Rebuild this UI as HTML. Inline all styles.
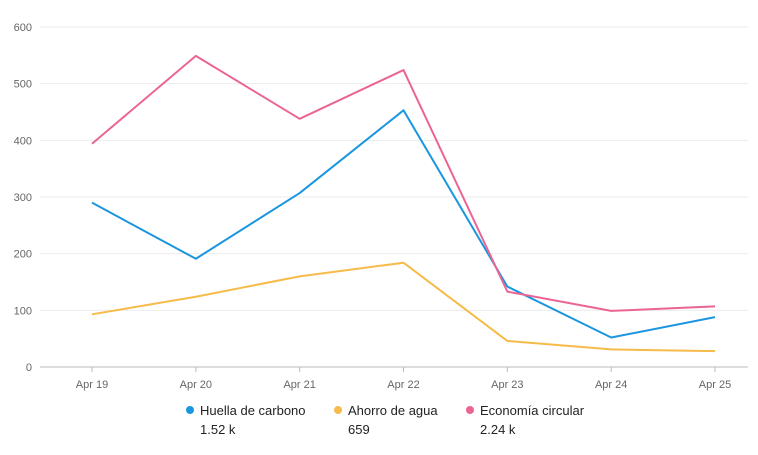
<!DOCTYPE html>
<html><head><meta charset="utf-8"><style>
body{margin:0;background:#fff;font-family:"Liberation Sans",Arial,sans-serif}
svg{display:block}
</style></head><body>
<svg id="chart" width="758" height="455"></svg>
<script>
const categories=["Apr 19","Apr 20","Apr 21","Apr 22","Apr 23","Apr 24","Apr 25"];
const huella=[290,191,307,453,142,52,88];
const ahorro=[93,124,160,184,46,31,28];
const economia=[394,549,438,524,133,99,107];
const yTicks=[0,100,200,300,400,500,600];
const seriesNames=["Huella de carbono","Ahorro de agua","Economía circular"];
const totals=["1.52 k","659","2.24 k"];
const colors=["#1a96e0","#f6bb4a","#eb6494"];
const NS="http://www.w3.org/2000/svg";
const svg=document.getElementById('chart');
const x0=92,x1=715,yBase=367,yTop=27;
const xs=i=>x0+(x1-x0)*i/(categories.length-1);
const ys=v=>yBase-(yBase-yTop)*v/600;
function mk(t,a){const e=document.createElementNS(NS,t);for(const k in a)e.setAttribute(k,a[k]);svg.appendChild(e);return e;}
yTicks.forEach(v=>{
  const l=mk('line',{x1:40,x2:748,y1:ys(v),y2:ys(v),stroke:v===0?'#bbb':'#ebebeb','stroke-width':1});
  
  
  const t=mk('text',{x:32,y:ys(v)+4,'text-anchor':'end','font-size':11,fill:'#666'});
  t.textContent=v;
  
  
});
categories.forEach((c,i)=>{
  const tk=mk('line',{x1:xs(i),x2:xs(i),y1:yBase,y2:yBase+5,stroke:'#bbb'});
  
  
  const t=mk('text',{x:xs(i),y:388,'text-anchor':'middle','font-size':11,fill:'#666'});
  t.textContent=c;
  
  
});
[huella,ahorro,economia].forEach((s,k)=>{
  const p=mk('polyline',{points:s.map((v,i)=>xs(i)+','+ys(v)).join(' '),fill:'none',stroke:colors[k],'stroke-width':2,'stroke-linejoin':'round'});
  
  
});
const lx=[190,338,470];
seriesNames.forEach((n,k)=>{
  const c=mk('circle',{cx:lx[k],cy:410,r:4,fill:colors[k]});
  
  
  const t=mk('text',{x:lx[k]+10,y:415,'font-size':13,fill:'#222'});
  t.textContent=n;
  
  
  const t2=mk('text',{x:lx[k]+10,y:434,'font-size':13,fill:'#222'});
  t2.textContent=totals[k];
  
  
});
</script>
</body></html>
